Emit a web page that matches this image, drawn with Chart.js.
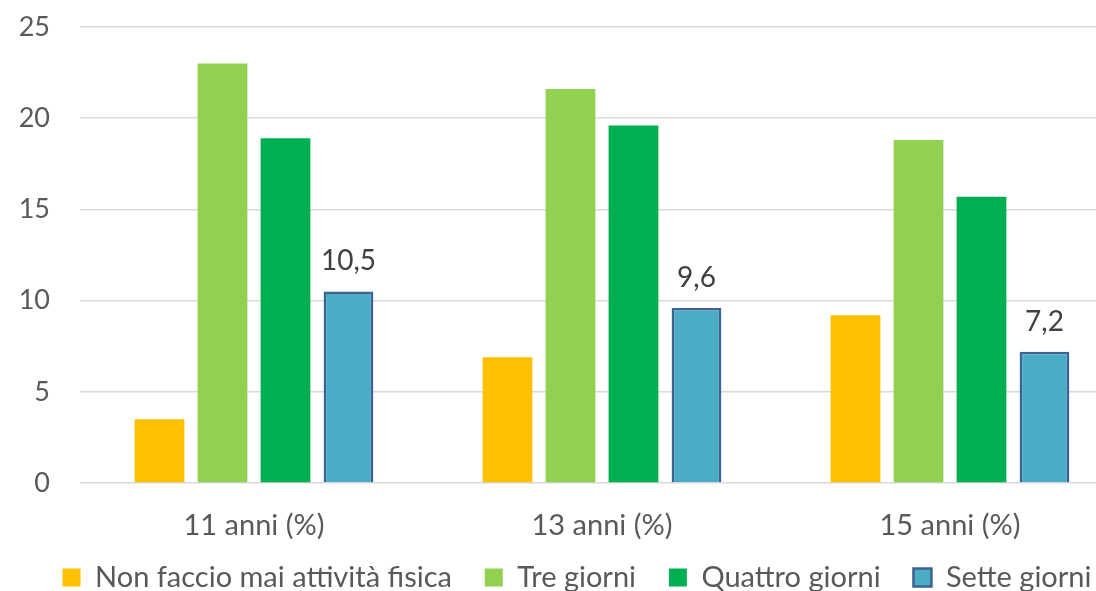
<!DOCTYPE html>
<html>
<head>
<meta charset="utf-8">
<script src="https://cdn.jsdelivr.net/npm/chart.js@4.4.1/dist/chart.umd.min.js"></script>
<style>
  html, body { margin: 0; padding: 0; background: #ffffff; overflow: hidden; }
  #wrap { position: relative; width: 1124px; height: 602px; }
</style>
</head>
<body>
<div id="wrap"><canvas id="chart" width="1124" height="602"></canvas></div>
<script>
// Età dei ragazzi
const categories = ['11 anni (%)', '13 anni (%)', '15 anni (%)'];

// Giorni di attività fisica a settimana (%)
const nonFaccioMai = [3.5, 6.9, 9.2];
const treGiorni = [23.0, 21.6, 18.8];
const quattroGiorni = [18.9, 19.6, 15.7];
const setteGiorni = [10.5, 9.6, 7.2];

const seriesNames = ['Non faccio mai attività fisica', 'Tre giorni', 'Quattro giorni', 'Sette giorni'];
const yTicks = [0, 5, 10, 15, 20, 25];

const FONT = 'Lato, "Open Sans", sans-serif';
const TEXT = '#595959';

// Etichette con il valore sopra le barre della serie "Sette giorni"
const valueLabels = {
  id: 'valueLabels',
  afterDatasetsDraw(chart) {
    const ctx = chart.ctx;
    chart.data.datasets.forEach((ds, i) => {
      if (!ds.showValues) return;
      const meta = chart.getDatasetMeta(i);
      meta.data.forEach((bar, j) => {
        const txt = String(ds.data[j]).replace('.', ',');
        ctx.save();
        ctx.font = '28px ' + FONT;
        ctx.fillStyle = '#404040';
        ctx.textAlign = 'center';
        ctx.textBaseline = 'alphabetic';
        ctx.fillText(txt, bar.x, bar.y - 21);
        ctx.restore();
      });
    });
  }
};

// Sposta la legenda un po' a destra, centrata sotto l'area del grafico
const legendShift = {
  id: 'legendShift',
  afterLayout(chart) {
    if (chart.legend) {
      chart.legend.left += 15;
      chart.legend.right += 15;
    }
  }
};

new Chart(document.getElementById('chart'), {
  type: 'bar',
  data: {
    labels: categories,
    datasets: [
      { label: seriesNames[0], data: nonFaccioMai, backgroundColor: '#ffc000', borderWidth: 0 },
      { label: seriesNames[1], data: treGiorni, backgroundColor: '#92d050', borderWidth: 0 },
      { label: seriesNames[2], data: quattroGiorni, backgroundColor: '#00b050', borderWidth: 0 },
      { label: seriesNames[3], data: setteGiorni, backgroundColor: '#4bacc6', borderColor: '#3e6391', borderWidth: 2.5, showValues: true }
    ]
  },
  options: {
    responsive: false,
    animation: false,
    devicePixelRatio: 1,
    layout: { padding: { top: 27, left: 0, right: 0, bottom: 0 } },
    datasets: { bar: { categoryPercentage: 0.724, barPercentage: 0.79 } },
    scales: {
      x: {
        afterFit(scale) { scale.height = 62; },
        grid: { display: false, drawTicks: false },
        border: { display: false },
        ticks: { color: TEXT, font: { family: FONT, size: 29 }, padding: 25 }
      },
      y: {
        min: 0,
        max: 25,
        afterBuildTicks(scale) { scale.ticks = yTicks.map(v => ({ value: v })); },
        afterFit(scale) {
          scale.width = 80;
          scale.paddingTop = 0;
          scale.paddingBottom = 0;
        },
        grid: { color: '#d9d9d9', lineWidth: 1.5, drawTicks: true, tickLength: 30, tickColor: 'rgba(0,0,0,0)' },
        border: { display: false },
        ticks: { color: TEXT, font: { family: FONT, size: 27 }, padding: 0 }
      }
    },
    plugins: {
      legend: {
        position: 'bottom',
        labels: {
          color: TEXT,
          font: { family: FONT, size: 29 },
          boxWidth: 18,
          boxHeight: 18,
          padding: 18,
          generateLabels(chart) {
            const items = Chart.defaults.plugins.legend.labels.generateLabels(chart);
            items.forEach((it, k) => { if (k < items.length - 1) it.text = it.text + '  '; });
            return items;
          }
        }
      },
      tooltip: { enabled: false }
    }
  },
  plugins: [valueLabels, legendShift]
});
</script>
</body>
</html>
